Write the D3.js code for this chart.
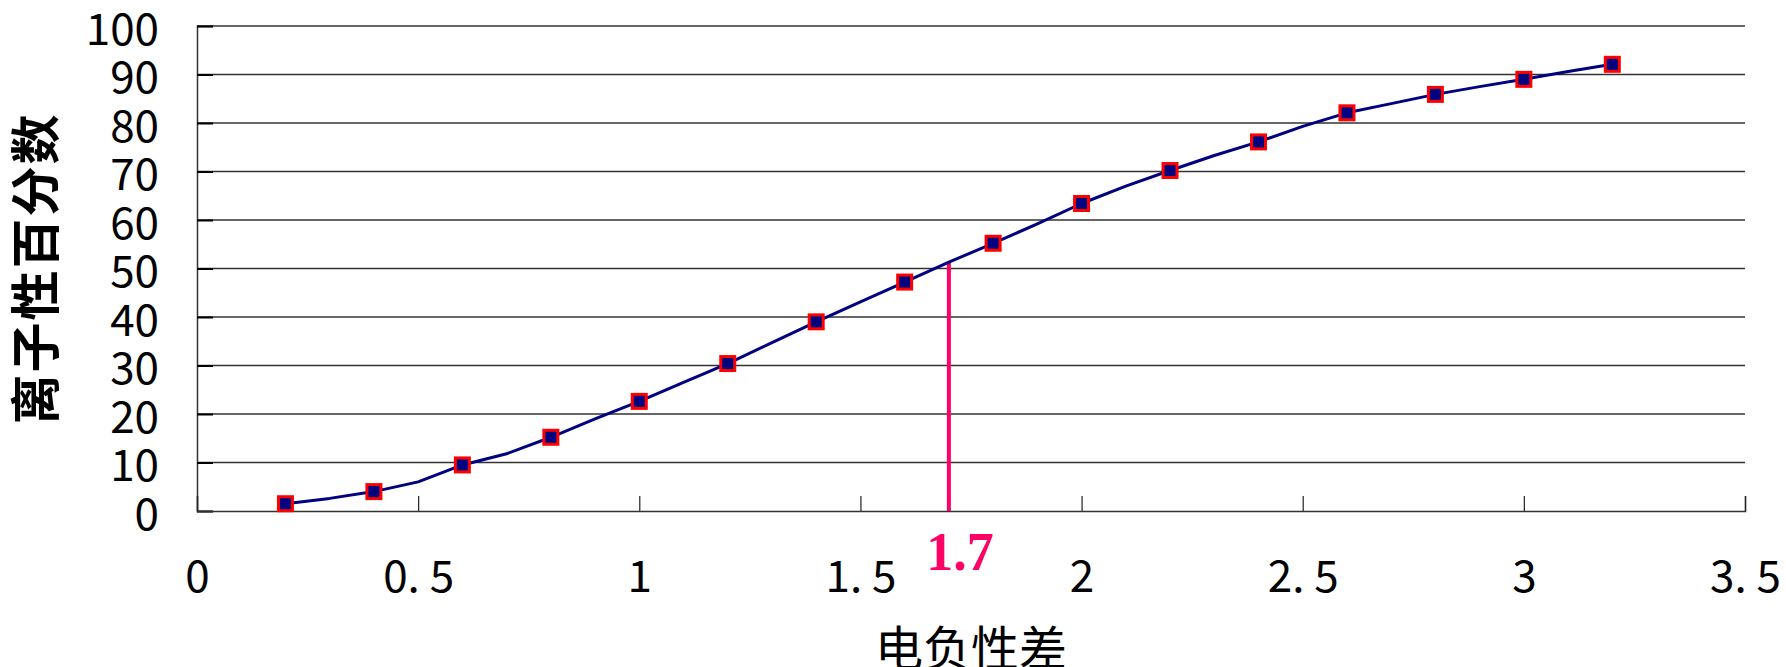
<!DOCTYPE html>
<html>
<head>
<meta charset="utf-8">
<script src="https://cdn.jsdelivr.net/npm/d3@7/dist/d3.min.js"></script>
<style>
  html, body { margin: 0; padding: 0; background: #fff; }
  svg { display: block; }
</style>
</head>
<body>
<svg id="chart" width="1786" height="667"></svg>
<script>
// Electronegativity difference vs. percent ionic character
const lineDiff = [0.2, 0.3, 0.4, 0.5, 0.6, 0.7, 0.8, 0.9, 1.0, 1.1, 1.2, 1.3, 1.4, 1.5, 1.6, 1.7,
                  1.8, 1.9, 2.0, 2.1, 2.2, 2.3, 2.4, 2.5, 2.6, 2.7, 2.8, 2.9, 3.0, 3.1, 3.2];
const lineIonic = [1.5, 2.6, 4, 6, 9.5, 11.8, 15.2, 19, 22.6, 26.5, 30.4, 34.7, 39, 43.1, 47.2, 51.3,
                   55.2, 59.2, 63.4, 67, 70.2, 73.3, 76.1, 79.3, 82.1, 84, 85.9, 87.5, 89, 90.6, 92.1];

const markDiff = [0.2, 0.4, 0.6, 0.8, 1.0, 1.2, 1.4, 1.6, 1.8, 2.0, 2.2, 2.4, 2.6, 2.8, 3.0, 3.2];
const markIonic = [1.5, 4, 9.5, 15.2, 22.6, 30.4, 39, 47.2, 55.2, 63.4, 70.2, 76.1, 82.1, 85.9, 89, 92.1];

const xTicks = [0, 0.5, 1, 1.5, 2, 2.5, 3, 3.5];
const xTickLabels = ["0", "0. 5", "1", "1. 5", "2", "2. 5", "3", "3. 5"];
const yTicks = [0, 10, 20, 30, 40, 50, 60, 70, 80, 90, 100];
const yTickLabels = ["0", "10", "20", "30", "40", "50", "60", "70", "80", "90", "100"];

const boundaryDiff = 1.7;
const boundaryLabel = "1.7";
const xTitle = "电负性差";
const yTitle = "离子性百分数";

const svg = d3.select("#chart");
const plotLeft = 197, plotRight = 1745, plotTop = 26, plotBottom = 511;

const x = d3.scaleLinear().domain([0, 3.5]).range([plotLeft, plotRight]);
const y = d3.scaleLinear().domain([0, 100]).range([plotBottom, plotTop]);

const sansFont = "'Noto Sans CJK SC', 'Noto Sans', sans-serif";

// horizontal gridlines
svg.append("g")
  .selectAll("line")
  .data(yTicks.filter(d => d > 0))
  .join("line")
  .attr("x1", plotLeft).attr("x2", plotRight)
  .attr("y1", d => y(d)).attr("y2", d => y(d))
  .attr("stroke", "#333").attr("stroke-width", 1.5);

// y axis
const yAxis = d3.axisLeft(y)
  .tickValues(yTicks)
  .tickFormat((d, i) => yTickLabels[i])
  .tickSize(-16)
  .tickPadding(38);
const gy = svg.append("g").attr("transform", `translate(${plotLeft},0)`).call(yAxis);
gy.select(".domain").attr("stroke", "#333").attr("stroke-width", 1.5);
gy.selectAll(".tick line").attr("stroke", "#000").attr("stroke-width", 2);
gy.selectAll(".tick text")
  .attr("font-family", sansFont)
  .attr("font-size", 44)
  .attr("fill", "#000")
  .attr("dy", "0.42em");

// x axis
const xAxis = d3.axisBottom(x)
  .tickValues(xTicks)
  .tickFormat((d, i) => xTickLabels[i])
  .tickSize(-15)
  .tickPadding(50);
const gx = svg.append("g").attr("transform", `translate(0,${plotBottom})`).call(xAxis);
gx.select(".domain").attr("stroke", "#333").attr("stroke-width", 1.5);
gx.selectAll(".tick line").attr("stroke", "#222").attr("stroke-width", 1.2);
gx.selectAll(".tick text")
  .attr("font-family", sansFont)
  .attr("font-size", 44)
  .attr("fill", "#000")
  .style("white-space", "pre");

// boundary marker at 1.7
const boundaryIdx = lineDiff.indexOf(boundaryDiff);
svg.append("line")
  .attr("x1", x(boundaryDiff)).attr("x2", x(boundaryDiff))
  .attr("y1", y(0)).attr("y2", y(lineIonic[boundaryIdx]))
  .attr("stroke", "#FF0066").attr("stroke-width", 4);

svg.append("text")
  .attr("x", x(boundaryDiff) + 11)
  .attr("y", 570)
  .attr("text-anchor", "middle")
  .attr("font-family", "'Liberation Serif', 'Times New Roman', serif")
  .attr("font-weight", "bold")
  .attr("font-size", 54)
  .attr("fill", "#FF0066")
  .text(boundaryLabel);

// curve
const linePts = lineDiff.map((d, i) => [d, lineIonic[i]]);
svg.append("path")
  .datum(linePts)
  .attr("fill", "none")
  .attr("stroke", "#000080")
  .attr("stroke-width", 3)
  .attr("stroke-linejoin", "round")
  .attr("d", d3.line().x(d => x(d[0])).y(d => y(d[1])));

// square markers
const ms = 14;
svg.append("g")
  .selectAll("rect")
  .data(markDiff.map((d, i) => [d, markIonic[i]]))
  .join("rect")
  .attr("x", d => x(d[0]) - ms / 2)
  .attr("y", d => y(d[1]) - ms / 2)
  .attr("width", ms).attr("height", ms)
  .attr("fill", "#000080")
  .attr("stroke", "#FF0000")
  .attr("stroke-width", 3);

// axis titles
svg.append("text")
  .attr("x", (plotLeft + plotRight) / 2)
  .attr("y", 666)
  .attr("text-anchor", "middle")
  .attr("font-family", sansFont)
  .attr("font-size", 48)
  .attr("fill", "#000")
  .text(xTitle);

svg.append("text")
  .attr("transform", `translate(54,${(plotTop + plotBottom) / 2}) rotate(-90)`)
  .attr("text-anchor", "middle")
  .attr("font-family", sansFont)
  .attr("font-weight", "bold")
  .attr("font-size", 50)
  .attr("letter-spacing", 2)
  .attr("fill", "#000")
  .text(yTitle);
</script>
</body>
</html>
